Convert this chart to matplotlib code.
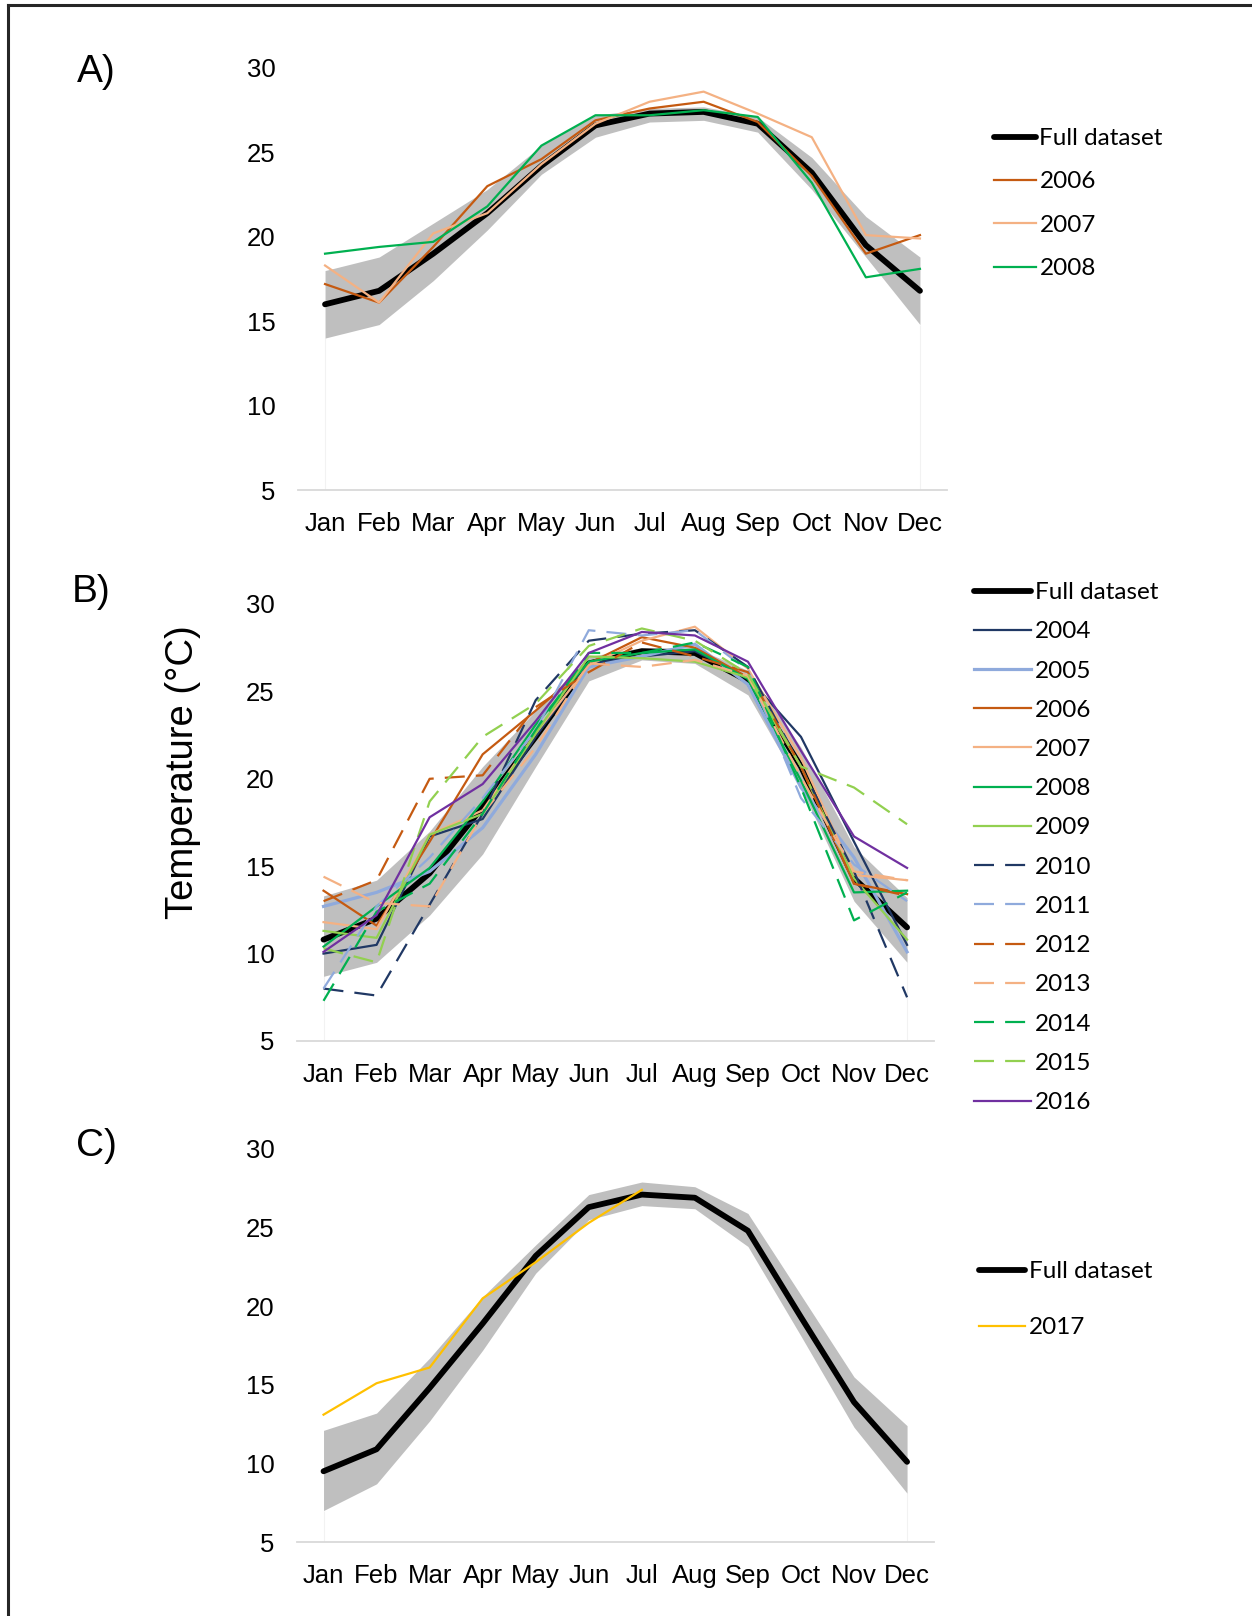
import matplotlib
matplotlib.use("Agg")
import numpy as np
import matplotlib.pyplot as plt
from matplotlib.lines import Line2D

months = ['Jan', 'Feb', 'Mar', 'Apr', 'May', 'Jun',
          'Jul', 'Aug', 'Sep', 'Oct', 'Nov', 'Dec']

# ---- panel A (2006-2008) ----
a_full = [16.0, 16.8, 19.0, 21.4, 24.2, 26.6, 27.3, 27.4, 26.7, 23.8, 19.5, 16.8]
a_upper = [18.0, 18.8, 20.8, 22.8, 25.4, 27.2, 27.6, 27.7, 27.1, 24.7, 21.2, 18.8]
a_lower = [14.0, 14.8, 17.4, 20.4, 23.7, 25.9, 26.8, 26.9, 26.2, 22.8, 18.8, 14.8]
a_years = ['2006', '2007', '2008']
a_vals = [
    [17.2, 16.1, 19.4, 23.0, 24.6, 26.9, 27.6, 28.0, 26.8, 23.6, 19.0, 20.1],
    [18.3, 16.1, 20.2, 21.4, 24.3, 26.7, 28.0, 28.6, 27.3, 25.9, 20.1, 19.9],
    [19.0, 19.4, 19.7, 21.8, 25.4, 27.2, 27.2, 27.5, 27.1, 23.2, 17.6, 18.1],
]

# ---- panel B (2004-2016) ----
b_full = [10.8, 12.0, 14.6, 18.4, 22.4, 26.6, 27.3, 27.2, 25.6, 20.7, 14.3, 11.5]
b_upper = [13.3, 14.2, 17.0, 20.7, 23.9, 27.0, 27.5, 27.5, 26.2, 21.8, 16.1, 13.2]
b_lower = [8.7, 9.5, 12.2, 15.7, 20.7, 25.6, 26.8, 26.6, 24.8, 19.5, 13.0, 9.5]
b_years = ['2004', '2005', '2006', '2007', '2008', '2009', '2010',
           '2011', '2012', '2013', '2014', '2015', '2016']
b_vals = [
    [10.0, 10.5, 16.7, 17.7, 22.4, 26.6, 27.0, 27.3, 25.8, 22.4, 16.4, 10.5],
    [12.7, 13.5, 14.7, 17.2, 21.4, 26.4, 27.0, 27.7, 25.4, 19.5, 15.5, 10.1],
    [13.6, 11.6, 16.4, 21.4, 23.9, 26.6, 28.1, 27.5, 25.8, 20.7, 14.0, 13.4],
    [11.8, 11.4, 16.8, 18.2, 22.6, 26.5, 27.9, 28.7, 26.3, 21.2, 14.5, 14.2],
    [10.4, 12.7, 14.9, 18.7, 23.1, 26.7, 27.2, 27.4, 25.7, 19.9, 13.5, 13.6],
    [11.3, 10.9, 16.8, 18.0, 22.6, 27.0, 26.9, 26.7, 25.8, 20.7, 14.3, 10.8],
    [8.0, 7.6, 12.8, 18.0, 24.5, 27.9, 28.3, 28.5, 26.4, 20.7, 14.7, 7.5],
    [8.0, 12.7, 15.5, 18.9, 22.8, 28.5, 28.2, 28.5, 26.2, 18.9, 15.1, 13.0],
    [13.0, 14.2, 20.0, 20.2, 24.1, 26.1, 27.8, 27.0, 26.1, 20.7, 14.0, 13.3],
    [14.4, 12.9, 12.7, 18.0, 21.8, 26.6, 26.4, 26.8, 25.9, 20.1, 14.7, 14.2],
    [7.3, 12.4, 14.0, 18.0, 22.8, 27.2, 27.2, 27.8, 26.4, 19.5, 11.9, 13.5],
    [10.3, 9.5, 18.7, 22.4, 24.3, 27.6, 28.6, 27.9, 26.0, 20.7, 19.5, 17.4],
    [10.1, 12.2, 17.8, 19.7, 23.3, 27.2, 28.4, 28.2, 26.7, 21.6, 16.7, 14.9],
]

# ---- panel C (2017, Jan-Jul only) ----
c_full = [9.5, 10.9, 14.8, 18.9, 23.2, 26.3, 27.1, 26.9, 24.8, 19.3, 13.9, 10.1]
c_upper = [12.1, 13.2, 16.7, 20.6, 23.9, 27.1, 27.9, 27.6, 25.9, 20.7, 15.5, 12.4]
c_lower = [7.0, 8.7, 12.7, 17.2, 22.1, 25.5, 26.4, 26.2, 23.8, 18.1, 12.3, 8.1]
c_years = ['2017']
c_vals = [[13.1, 15.1, 16.1, 20.5, 22.8, 25.3, 27.4]]

# colour / style per year
NAVY, LBLUE, DORANGE, LORANGE = '#203864', '#8FAADC', '#C55A11', '#F4B183'
GREEN, LGREEN, PURPLE, GOLD = '#00B050', '#92D050', '#7030A0', '#FFC000'
year_style = {
    '2004': (NAVY, '-', 1.6), '2005': (LBLUE, '-', 2.3),
    '2006': (DORANGE, '-', 1.6), '2007': (LORANGE, '-', 1.6),
    '2008': (GREEN, '-', 1.6), '2009': (LGREEN, '-', 1.6),
    '2010': (NAVY, '--', 1.6), '2011': (LBLUE, '--', 1.6),
    '2012': (DORANGE, '--', 1.6), '2013': (LORANGE, '--', 1.6),
    '2014': (GREEN, '--', 1.6), '2015': (LGREEN, '--', 1.6),
    '2016': (PURPLE, '-', 1.6), '2017': (GOLD, '-', 1.6),
}
DASH = (9, 5)

TICK_FONT = 'Liberation Sans'
LEG_FONT = 'Lato'
LEG_SIZE = 17.5

W, H = 1252, 1616
fig = plt.figure(figsize=(W / 100, H / 100), dpi=100)


def px_axes(left, right, top, bottom):
    return fig.add_axes([left / W, 1 - bottom / H, (right - left) / W, (bottom - top) / H])


def panel(ax, full, upper, lower, years, vals, leg_xy, spacing, handlelen):
    x = np.arange(len(months))
    ax.fill_between(x, lower, upper, color='#BFBFBF', lw=0, zorder=1)
    ax.vlines([x[0], x[-1]], 5, [lower[0], lower[-1]], color='#F2F2F2', lw=0.8, zorder=0)
    handles = []
    h = ax.plot(x, full, color='black', lw=4.2, solid_capstyle='round',
                solid_joinstyle='round', zorder=2, label='Full dataset')[0]
    handles.append(h)
    for yr, v in zip(years, vals):
        c, ls, lw = year_style[yr]
        xv = x[:len(v)]
        if ls == '--':
            ln = ax.plot(xv, v, color=c, lw=lw, dashes=DASH, zorder=3, label=yr)[0]
        else:
            ln = ax.plot(xv, v, color=c, lw=lw, zorder=3, label=yr)[0]
        handles.append(ln)
    ax.set_xlim(-0.5, len(months) - 0.5)
    ax.set_ylim(5, 30)
    ax.set_yticks([5, 10, 15, 20, 25, 30])
    ax.set_xticks(x)
    ax.set_xticklabels(months)
    for s in ['top', 'right', 'left']:
        ax.spines[s].set_visible(False)
    ax.spines['bottom'].set_color('#D9D9D9')
    ax.spines['bottom'].set_linewidth(1.3)
    ax.tick_params(length=0, labelsize=18.5)
    ax.tick_params(axis='y', pad=16)
    ax.tick_params(axis='x', pad=16)
    for t in ax.get_xticklabels() + ax.get_yticklabels():
        t.set_fontfamily(TICK_FONT)
    leg = ax.legend(handles=handles, loc='upper left',
                    bbox_to_anchor=(leg_xy[0] / W, 1 - leg_xy[1] / H),
                    bbox_transform=fig.transFigure, frameon=False,
                    prop={'family': LEG_FONT, 'size': LEG_SIZE},
                    handlelength=handlelen, handletextpad=0.15,
                    labelspacing=spacing, borderpad=0, borderaxespad=0)
    return leg


axA = px_axes(298, 947, 68, 490)
panel(axA, a_full, a_upper, a_lower, a_years, a_vals, (994, 128), 0.92, 1.72)

axB = px_axes(297, 933.6, 604, 1041)
panel(axB, b_full, b_upper, b_lower, b_years, b_vals, (974, 582), 0.75, 2.35)

axC = px_axes(297, 933.6, 1149, 1542)
panel(axC, c_full, c_upper, c_lower, c_years, c_vals, (979, 1261), 1.45, 1.9)

# panel letters
for lab, (px, py) in zip(['A)', 'B)', 'C)'], [(96, 72), (91, 592), (96, 1146)]):
    fig.text(px / W, 1 - py / H, lab, fontsize=28, family=TICK_FONT,
             ha='center', va='center')

fig.text(183 / W, 1 - 772 / H, 'Temperature (\u00b0C)', fontsize=27.5,
         family=TICK_FONT, rotation=90, ha='center', va='center')

# outer frame (top and left edges)
fig.add_artist(Line2D([8 / W, 1], [1 - 5 / H, 1 - 5 / H], color='#262626', lw=2.2,
                      transform=fig.transFigure))
fig.add_artist(Line2D([8 / W, 8 / W], [0, 1 - 5 / H], color='#262626', lw=2.2,
                      transform=fig.transFigure))

fig.savefig('out.png', dpi=100, facecolor='white')
